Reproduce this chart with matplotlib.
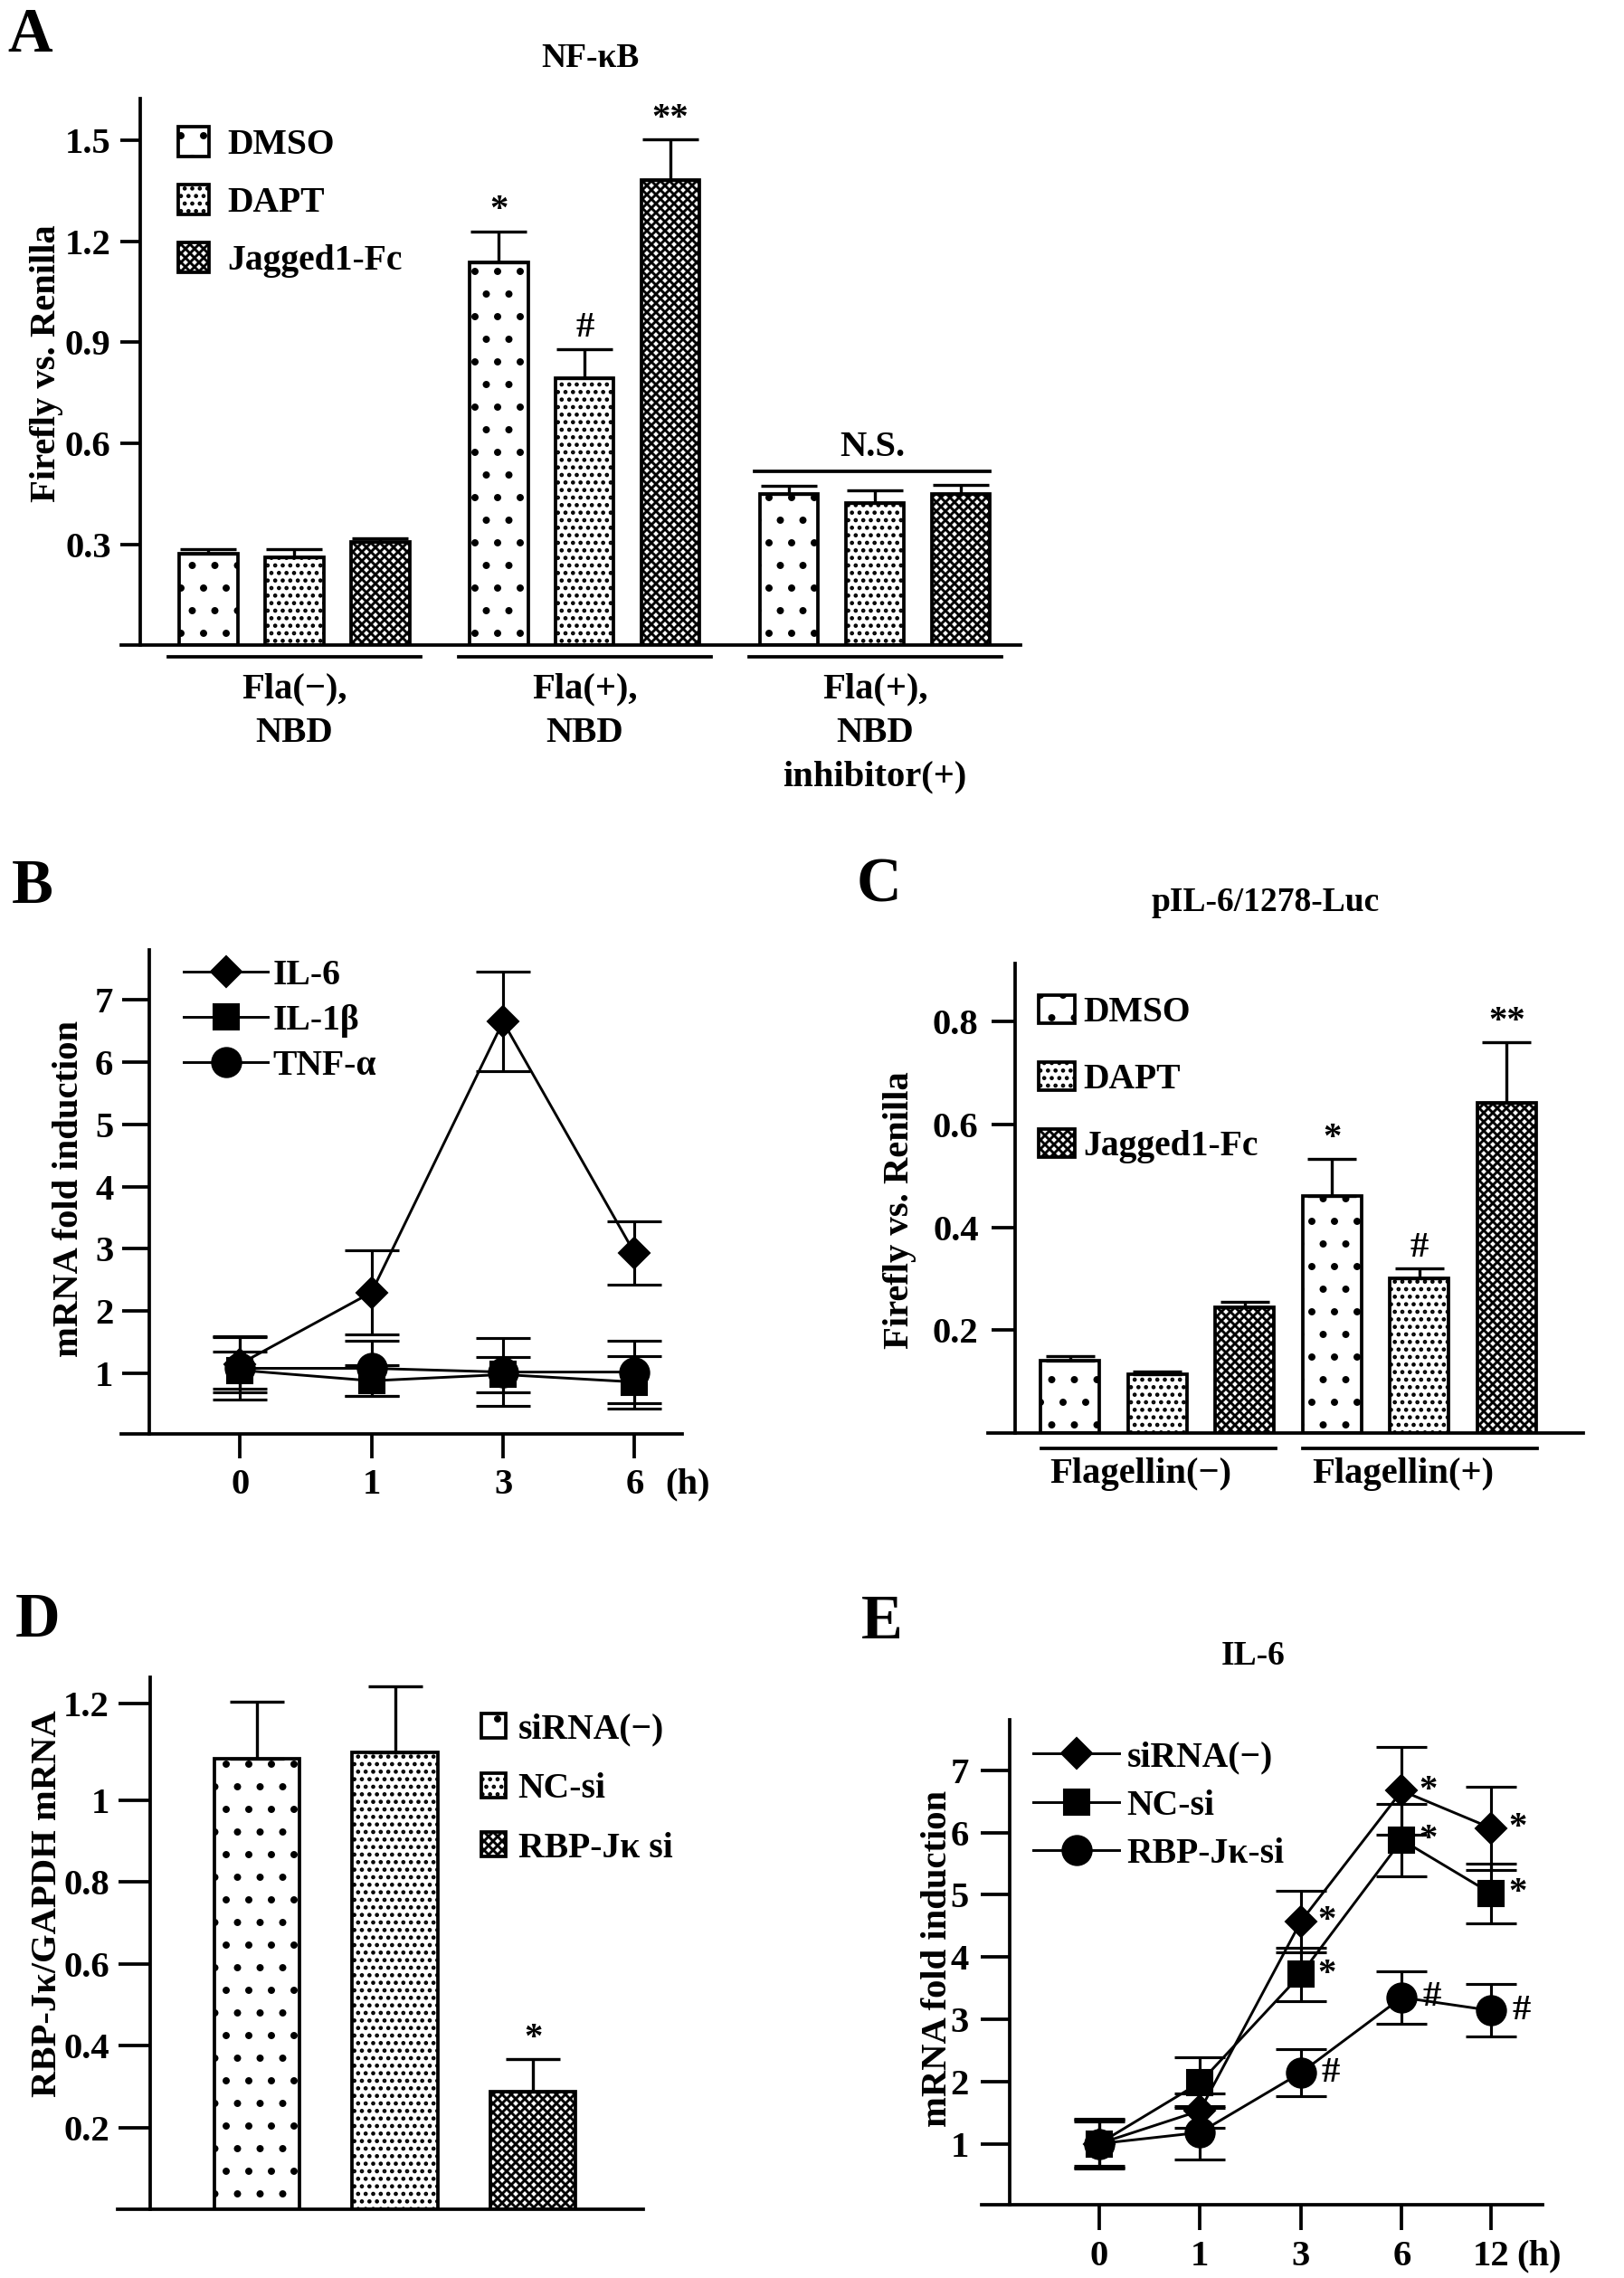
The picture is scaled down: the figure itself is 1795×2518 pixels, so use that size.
import matplotlib
matplotlib.use("Agg")
import matplotlib.pyplot as plt
import numpy as np

W, H = 1795, 2518
DPI = 150

plt.rcParams['font.family'] = ['Liberation Serif', 'DejaVu Serif']
plt.rcParams['font.weight'] = 'bold'
plt.rcParams['axes.linewidth'] = 1.8
plt.rcParams['hatch.linewidth'] = 1.4

# ---- panel A : NF-kB luciferase ----
a_groups = ["Fla(−),\nNBD", "Fla(+),\nNBD", "Fla(+),\nNBD\ninhibitor(+)"]
a_series = ["DMSO", "DAPT", "Jagged1-Fc"]
a_vals = [[0.272, 1.138, 0.451],
          [0.261, 0.795, 0.422],
          [0.308, 1.381, 0.451]]
a_errs = [[0.013, 0.092, 0.023],
          [0.024, 0.086, 0.038],
          [0.011, 0.122, 0.026]]
a_marks = [["", "*", ""], ["", "#", ""], ["", "**", ""]]
a_ns_level = 0.516
a_yticks = [0.3, 0.6, 0.9, 1.2, 1.5]

# ---- panel B : time course ----
b_times = ["0", "1", "3", "6"]
b_names = ["IL-6", "IL-1β", "TNF-α"]
b_il6 = [1.15, 2.30, 6.65, 2.93]
b_il6_err = [0.45, 0.68, 0.80, 0.51]
b_il1b = [1.05, 0.88, 0.98, 0.86]
b_il1b_err = [0.30, 0.25, 0.28, 0.42]
b_tnf = [1.08, 1.08, 1.02, 1.02]
b_tnf_err = [0.50, 0.45, 0.55, 0.50]
b_yticks = [1, 2, 3, 4, 5, 6, 7]

# ---- panel C : pIL-6 luciferase ----
c_groups = ["Flagellin(−)", "Flagellin(+)"]
c_vals = [[0.140, 0.461], [0.115, 0.300], [0.244, 0.641]]
c_errs = [[0.009, 0.071], [0.005, 0.020], [0.011, 0.119]]
c_marks = [["", "*"], ["", "#"], ["", "**"]]
c_yticks = [0.2, 0.4, 0.6, 0.8]

# ---- panel D : knockdown ----
d_names = ["siRNA(−)", "NC-si", "RBP-Jκ si"]
d_vals = [1.100, 1.117, 0.288]
d_errs = [0.141, 0.160, 0.078]
d_marks = ["", "", "*"]
d_yticks = [0.2, 0.4, 0.6, 0.8, 1.0, 1.235]
d_ylabels = ["0.2", "0.4", "0.6", "0.8", "1", "1.2"]

# ---- panel E : IL-6 after knockdown ----
e_times = ["0", "1", "3", "6", "12"]
e_xpos = [0, 1, 2, 3, 3.885]
e_names = ["siRNA(−)", "NC-si", "RBP-Jκ-si"]
e_sirna = [1.00, 1.53, 4.57, 6.67, 6.07]
e_sirna_err = [0.35, 0.28, 0.50, 0.70, 0.67]
e_nc = [1.00, 1.98, 3.72, 5.88, 5.02]
e_nc_err = [0.38, 0.41, 0.43, 0.58, 0.48]
e_rbp = [1.00, 1.18, 2.14, 3.35, 3.14]
e_rbp_err = [0.40, 0.43, 0.38, 0.42, 0.42]
e_marks = [["", "", "*", "*", "*"], ["", "", "*", "*", "*"], ["", "", "#", "#", "#"]]
e_yticks = [1, 2, 3, 4, 5, 6, 7]

hatches = ['.', '...', 'xxxxx']
markers = ['D', 's', 'o']
msizes = [11.5, 13, 15.5]
FS = 19.5

fig = plt.figure(figsize=(W / DPI, H / DPI), dpi=DPI)


def fx(x):
    return x / W


def fy(y):
    return 1 - y / H


def px_axes(x0, x1, top, base):
    return fig.add_axes([x0 / W, 1 - base / H, (x1 - x0) / W, (base - top) / H])


def frame(ax, xlim, ylim, yaxis_at, yticks, ylabels, ticklen, pad):
    ax.set_xlim(*xlim)
    ax.set_ylim(*ylim)
    ax.spines['top'].set_visible(False)
    ax.spines['right'].set_visible(False)
    ax.spines['left'].set_position(('data', yaxis_at))
    ax.set_yticks(yticks, ylabels)
    ax.tick_params(axis='y', length=ticklen, width=1.8, labelsize=FS, pad=pad)
    ax.set_xticks([])
    ax.patch.set_visible(False)


def bars(ax, vals, errs, xs, width, capsize):
    conts = []
    for i, (v, e) in enumerate(zip(vals, errs)):
        c = ax.bar(xs[i], v, width, color='white', edgecolor='black', linewidth=1.8,
                   hatch=hatches[i], yerr=[np.zeros(len(v)), e], capsize=capsize,
                   error_kw=dict(ecolor='black', elinewidth=1.6, capthick=1.6))
        conts.append(c)
    return conts


def star(ax, x, y, s):
    if s:
        ax.annotate(s, (x, y), xytext=(0, 2), textcoords='offset points',
                    ha='center', va='bottom', fontsize=FS)


def legend_at(ax, handles, labels, x, y, hl, hh, ls, tp):
    ax.legend(handles, labels, loc='upper left', bbox_to_anchor=(fx(x), fy(y)),
              bbox_transform=fig.transFigure, frameon=False, fontsize=19,
              handlelength=hl, handleheight=hh, labelspacing=ls, handletextpad=tp,
              borderpad=0, borderaxespad=0, numpoints=1)


def ylab(x, y, s):
    fig.text(fx(x), fy(y), s, rotation=90, ha='center', va='center', fontsize=19.5)


def letter(x, y, s):
    fig.text(fx(x), fy(y), s, ha='center', va='center', fontsize=33)


def title(x, y, s):
    fig.text(fx(x), fy(y), s, ha='center', va='center', fontsize=18)


# ================= A =================
ax = px_axes(133.5, 1127.6, 109, 713.5)
frame(ax, (-2.02, 8.45), (0, 1.624), -1.79, a_yticks, None, 10.7, 5)
gpos = np.arange(3) * 3.38
xs = [gpos - 1, gpos, gpos + 1]
conts = bars(ax, a_vals, a_errs, xs, 0.68, 15)
for i in range(3):
    for g in range(3):
        star(ax, xs[i][g], a_vals[i][g] + a_errs[i][g], a_marks[i][g])
ax.plot([gpos[2] - 1.40, gpos[2] + 1.34], [a_ns_level] * 2, color='black', lw=1.8)
ax.text(gpos[2] - 0.03, a_ns_level + 0.022, "N.S.", ha='center', va='bottom', fontsize=FS)
tr = ax.get_xaxis_transform()
for g, lab in enumerate(a_groups):
    ax.plot([gpos[g] - 1.47, gpos[g] + 1.47], [-0.0207] * 2, color='black', lw=1.8,
            transform=tr, clip_on=False)
    ax.text(gpos[g], -0.05, lab, ha='center', va='top', fontsize=FS,
            linespacing=1.4, transform=tr)
legend_at(ax, conts, a_series, 196.6, 140, 0.88, 0.91, 0.63, 0.5)
ylab(52, 402, "Firefly vs. Renilla")
title(652.8, 65, "NF-κB")
letter(33, 40, "A")

# ================= B =================
ax = px_axes(134.3, 753.8, 1049.5, 1585.4)
frame(ax, (-0.90, 3.36), (0.02, 7.81), -0.69, b_yticks, None, 14.5, 4.5)
xb = np.arange(len(b_times))
handles = []
for y, e, m, s in zip([b_il6, b_il1b, b_tnf], [b_il6_err, b_il1b_err, b_tnf_err], markers, msizes):
    c = ax.errorbar(xb, y, yerr=e, color='black', lw=1.4, marker=m, ms=s, mfc='black',
                    mec='black', capsize=14.5, elinewidth=1.5, capthick=1.5)
    handles.append(c[0])
ax.set_xticks(xb, b_times)
ax.tick_params(axis='x', length=13, width=1.8, labelsize=FS, pad=5)
ax.annotate("(h)", (3.40, 0), xycoords=('data', 'axes fraction'), xytext=(0, -18),
            textcoords='offset points', ha='center', va='top', fontsize=FS, annotation_clip=False)
legend_at(ax, handles, b_names, 202.9, 1060, 2.36, 0.7, 0.33, 0.14)
ylab(76.8, 1313.6, "mRNA fold induction")
letter(35.6, 981, "B")

# ================= C =================
ax = px_axes(1091.8, 1750.3, 1064.8, 1584)
frame(ax, (-0.942, 5.88), (0, 0.913), -0.624, c_yticks, None, 12.6, 7)
gpos = np.arange(2) * 3 + 1
xs = [gpos - 1, gpos, gpos + 1]
conts = bars(ax, c_vals, c_errs, xs, 0.676, 12.9)
for i in range(3):
    for g in range(2):
        star(ax, xs[i][g], c_vals[i][g] + c_errs[i][g], c_marks[i][g])
tr = ax.get_xaxis_transform()
for g, lab in enumerate(c_groups):
    ax.plot([gpos[g] - 1.33, gpos[g] + 1.35], [-0.0327] * 2, color='black', lw=1.8,
            transform=tr, clip_on=False)
    ax.text(gpos[g] - 0.19, -0.087, lab, ha='center', va='center', fontsize=FS, transform=tr)
legend_at(ax, conts, a_series, 1147.6, 1100, 1.01, 0.81, 0.91, 0.25)
ylab(994.2, 1337.6, "Firefly vs. Renilla")
title(1398.8, 997.8, "pIL-6/1278-Luc")
letter(971.9, 979, "C")

# ================= D =================
ax = px_axes(129.9, 711.1, 1854, 2442)
frame(ax, (-1.01, 2.80), (0, 1.30), -0.773, d_yticks, d_ylabels, 16.6, 5)
conts = []
for i in range(3):
    c = ax.bar([i], [d_vals[i]], 0.62, color='white', edgecolor='black', linewidth=1.8,
               hatch=hatches[i], yerr=[[0], [d_errs[i]]], capsize=14.5,
               error_kw=dict(ecolor='black', elinewidth=1.6, capthick=1.6))
    conts.append(c)
    star(ax, i, d_vals[i] + d_errs[i], d_marks[i])
legend_at(ax, conts, d_names, 531.8, 1893.6, 0.68, 0.68, 0.72, 0.35)
ylab(52.1, 2104, "RBP-Jκ/GAPDH mRNA")
letter(41.1, 1792, "D")

# ================= E =================
ax = px_axes(1085.1, 1704.6, 1901, 2437)
frame(ax, (-1.16, 4.39), (0.02, 7.81), -0.885, e_yticks, None, 15.5, 6)
handles = []
series_e = [e_sirna, e_nc, e_rbp]
for k, (y, e, m, s) in enumerate(zip(series_e, [e_sirna_err, e_nc_err, e_rbp_err], markers, msizes)):
    c = ax.errorbar(e_xpos, y, yerr=e, color='black', lw=1.4, marker=m, ms=s, mfc='black',
                    mec='black', capsize=13.4, elinewidth=1.5, capthick=1.5)
    handles.append(c[0])
    for j, mk in enumerate(e_marks[k]):
        if mk:
            dx = 9 if mk == "*" else 11
            ax.annotate(mk, (e_xpos[j], y[j]), xytext=(dx, 0), textcoords='offset points',
                        ha='left', va='center', fontsize=FS)
ax.set_xticks(e_xpos, e_times)
ax.tick_params(axis='x', length=13.5, width=1.8, labelsize=FS, pad=5)
ax.annotate("(h)", (4.36, 0), xycoords=('data', 'axes fraction'), xytext=(0, -18.5),
            textcoords='offset points', ha='center', va='top', fontsize=FS, annotation_clip=False)
legend_at(ax, handles, e_names, 1142, 1924, 2.4, 0.7, 0.42, 0.21)
ylab(1036, 2165, "mRNA fold induction")
title(1384.8, 1831, "IL-6")
letter(974.6, 1794, "E")

fig.savefig("out.png", dpi=DPI)
